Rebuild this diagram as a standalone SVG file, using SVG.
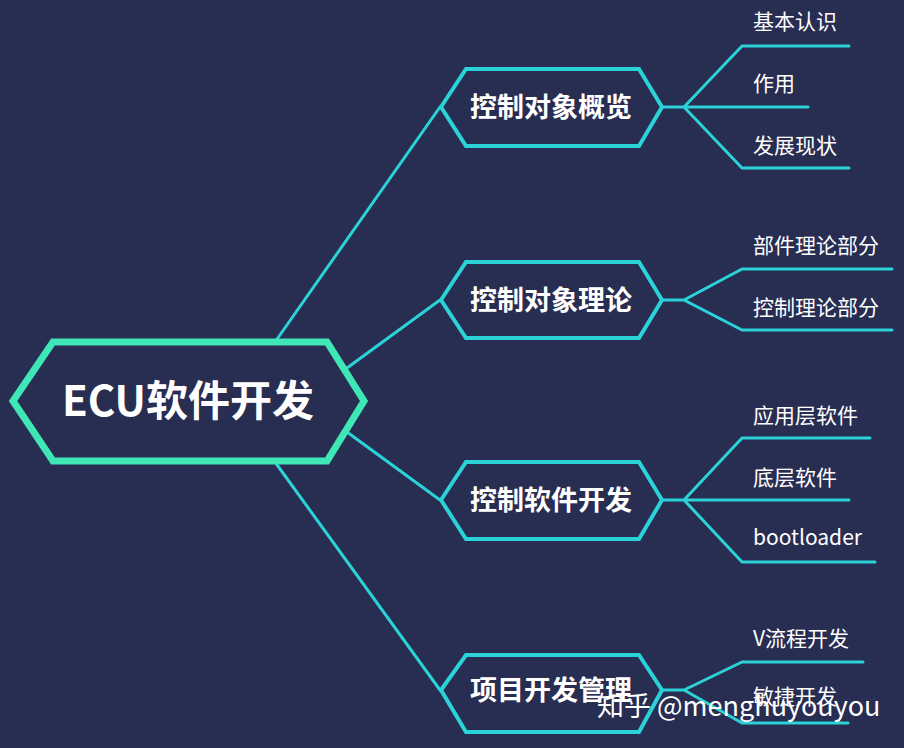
<svg xmlns="http://www.w3.org/2000/svg" width="904" height="748" viewBox="0 0 904 748">
<style>
.bg{fill:#282d52}
.conn{fill:none;stroke:#2bd3d8;stroke-width:3;stroke-linejoin:round;stroke-linecap:round}
.root{fill:#282d52;stroke:#3fe6b6;stroke-width:7;stroke-linejoin:miter}
.hex{fill:#282d52;stroke:#2bd3d8;stroke-width:4}
.rt{font-family:"Noto Sans CJK SC","Noto Sans",sans-serif;font-weight:bold;font-size:42px;fill:#ffffff;text-anchor:middle}
.l1{font-family:"Noto Sans CJK SC","Noto Sans",sans-serif;font-weight:bold;font-size:27px;fill:#ffffff;text-anchor:middle}
.l2{font-family:"Noto Sans CJK SC","Noto Sans",sans-serif;font-size:21px;fill:#ffffff}
.wm{font-family:"Noto Sans CJK SC","Noto Sans",sans-serif;font-size:27px;fill:#ffffff}
</style>
<rect class="bg" x="0" y="0" width="904" height="748"/>
<g id="connectors">
<path class="conn" d="M275 342 L440 107"/>
<path class="conn" d="M347 368 L440 300"/>
<path class="conn" d="M347 432 L440 500"/>
<path class="conn" d="M275 462 L440 690"/>
<path class="conn" d="M663 107 L684 107 L742 46 L849 46 M684 107 L808 107 M684 107 L742 168 L849 168"/>
<path class="conn" d="M663 300 L684 300 L742 269 L892 269 M684 300 L742 330 L892 330"/>
<path class="conn" d="M663 500 L684 500 L742 438 L870 438 M684 500 L849 500 M684 500 L742 562 L875 562"/>
<path class="conn" d="M663 690 L684 690 L742 662 L863 662 M684 690 L742 723 L848 723"/>
</g>
<g id="root">
<polygon class="root" points="13,401 53,342 327,342 364,401 327,461 53,461"/>
<text class="rt" x="188" y="416">ECU软件开发</text>
</g>
<g id="n1">
<polygon class="hex" points="441,107 466,69 639,69 662,107 639,146 466,146"/>
<text class="l1" x="551" y="117">控制对象概览</text>
</g>
<g id="n2">
<polygon class="hex" points="441,300 466,262 639,262 662,300 639,338 466,338"/>
<text class="l1" x="551" y="310">控制对象理论</text>
</g>
<g id="n3">
<polygon class="hex" points="441,500 466,462 639,462 662,500 639,539 466,539"/>
<text class="l1" x="551" y="510">控制软件开发</text>
</g>
<g id="n4">
<polygon class="hex" points="441,690 466,655 639,655 662,690 639,732 466,732"/>
<text class="l1" x="551" y="700">项目开发管理</text>
</g>
<g id="n1c">
<text class="l2" x="753" y="29">基本认识</text>
<text class="l2" x="753" y="91">作用</text>
<text class="l2" x="753" y="153">发展现状</text>
</g>
<g id="n2c">
<text class="l2" x="753" y="253">部件理论部分</text>
<text class="l2" x="753" y="315">控制理论部分</text>
</g>
<g id="n3c">
<text class="l2" x="753" y="423">应用层软件</text>
<text class="l2" x="753" y="485">底层软件</text>
<text class="l2" x="753" y="545">bootloader</text>
</g>
<g id="n4c">
<text class="l2" x="753" y="646">V流程开发</text>
<text class="l2" x="753" y="704">敏捷开发</text>
</g>
<text class="wm" x="597" y="716">知乎 @menghuyouyou</text>
</svg>
